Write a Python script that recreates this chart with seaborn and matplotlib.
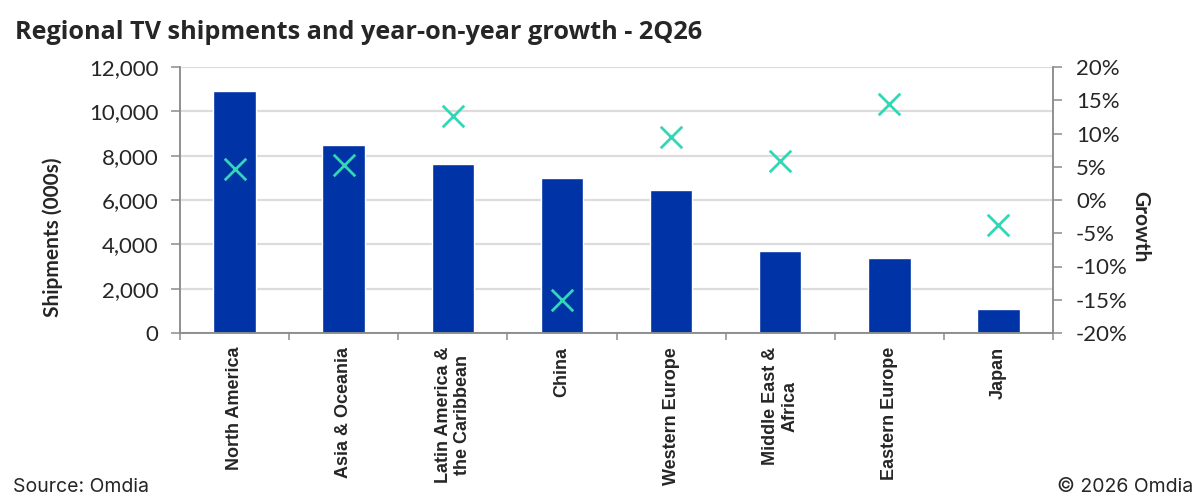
import numpy as np
import pandas as pd
import seaborn as sns
import matplotlib.pyplot as plt
from matplotlib.ticker import FuncFormatter

regions = ["North America", "Asia & Oceania", "Latin America &\nthe Caribbean",
           "China", "Western Europe", "Middle East &\nAfrica",
           "Eastern Europe", "Japan"]
shipments = [10900, 8500, 7620, 6980, 6430, 3720, 3380, 1080]
growth = [0.047, 0.053, 0.127, -0.151, 0.094, 0.059, 0.144, -0.037]

bar_color = "#0033a5"
mark_color = "#33d6b5"
axis_gray = "#8c8c8c"

sns.set_style("white")
plt.rcParams["font.family"] = ["Lato", "DejaVu Sans"]
plt.rcParams["axes.unicode_minus"] = False

df = pd.DataFrame({"region": regions, "shipments": shipments, "growth": growth})

fig = plt.figure(figsize=(12, 4.99), dpi=100)
ax = fig.add_axes([180 / 1200, 1 - 333 / 499, 873 / 1200, 266 / 499])

sns.barplot(data=df, x="region", y="shipments", color=bar_color,
            saturation=1, width=0.39, ax=ax)
ax.set_ylim(0, 12000)
ax.set_yticks(np.arange(0, 12001, 2000))
ax.yaxis.set_major_formatter(FuncFormatter(lambda v, p: f"{int(v):,}"))
ax.set_xlim(-0.5, len(regions) - 0.5)
ax.grid(axis="y", color="#dcdcdc", lw=1.6)
ax.set_axisbelow(True)

ax2 = ax.twinx()
sns.scatterplot(data=df, x="region", y="growth", marker="x", s=240,
                color=mark_color, linewidth=2, ax=ax2, zorder=5)
ax2.set_ylim(-0.2, 0.2)
ax2.set_yticks(np.arange(-0.2, 0.2001, 0.05))
ax2.yaxis.set_major_formatter(FuncFormatter(lambda v, p: f"{int(round(v * 100))}%"))

# spines
for a in (ax, ax2):
    a.spines["top"].set_visible(False)
    for s in ("left", "right", "bottom"):
        a.spines[s].set_color(axis_gray)
        a.spines[s].set_linewidth(1.1)

# ticks
ax.tick_params(axis="y", which="major", length=6.5, width=1.1, color=axis_gray,
               labelsize=16, pad=9, left=True)
ax2.tick_params(axis="y", which="major", length=6.5, width=1.1, color=axis_gray,
                labelsize=16, pad=10, right=True)
ax.set_xticks(np.arange(-0.5, len(regions), 1), minor=True)
ax.tick_params(axis="x", which="minor", length=5, width=1.1, color=axis_gray,
               bottom=True)
ax.tick_params(axis="x", which="major", length=0, pad=10)
for lbl in ax.get_xticklabels():
    lbl.set_rotation(90)
    lbl.set_fontfamily(["Liberation Sans", "DejaVu Sans"])
    lbl.set_fontweight("bold")
    lbl.set_fontsize(13)
    lbl.set_multialignment("center")

ax.set_xlabel("")
ax2.set_xlabel("")
ax.set_ylabel("Shipments (000s)", fontsize=15, fontweight="bold")
ax.yaxis.set_label_coords(-0.134, 0.36)
ax2.set_ylabel("Growth", fontsize=15, fontweight="bold", rotation=270,
               va="center")
ax2.yaxis.set_label_coords(1.10, 0.40)

fig.text(15 / 1200, 1 - 39 / 499, "Regional TV shipments and year-on-year growth - 2Q26",
         fontsize=18.2, fontweight="bold", family=["Open Sans", "DejaVu Sans"],
         va="baseline", ha="left")
fig.text(13 / 1200, 1 - 492 / 499, "Source: Omdia", fontsize=14,
         family=["Inter", "DejaVu Sans"], va="baseline", ha="left")
fig.text(1193 / 1200, 1 - 492 / 499, "\u00a9 2026 Omdia", fontsize=14,
         family=["Inter", "DejaVu Sans"], va="baseline", ha="right")

fig.savefig("out.png", dpi=100)
